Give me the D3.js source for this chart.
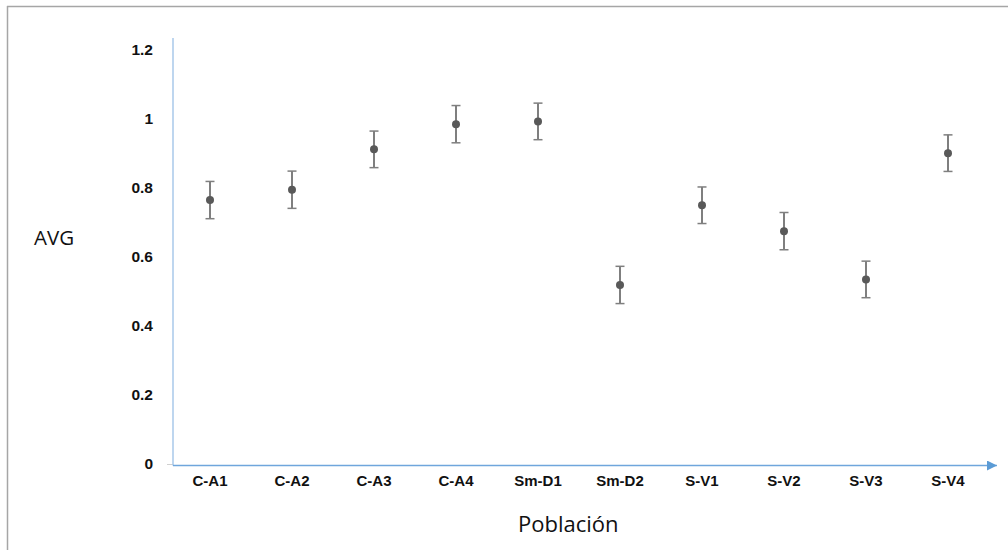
<!DOCTYPE html>
<html>
<head>
<meta charset="utf-8">
<script src="https://cdn.jsdelivr.net/npm/d3@7"></script>
<style>
  body { margin: 0; background: #fff; }
  svg { display: block; }
  .tick text { font-family: "Liberation Sans", Arial, sans-serif; font-weight: bold; fill: #111; }
</style>
</head>
<body>
<svg id="chart" width="1008" height="550"></svg>
<script>
const poblaciones = ['C-A1', 'C-A2', 'C-A3', 'C-A4', 'Sm-D1', 'Sm-D2', 'S-V1', 'S-V2', 'S-V3', 'S-V4'];
const avgValues = [0.765, 0.795, 0.912, 0.985, 0.993, 0.519, 0.750, 0.675, 0.535, 0.901];
const errValues = [0.054, 0.054, 0.053, 0.054, 0.053, 0.054, 0.053, 0.054, 0.053, 0.053];
const yTicks = [0, 0.2, 0.4, 0.6, 0.8, 1, 1.2];

const data = poblaciones.map((p, i) => ({ name: p, avg: avgValues[i], err: errValues[i] }));

const svg = d3.select('#chart');

// frame around the picture (only top and left edges show)
svg.append('line').attr('x1', 7).attr('x2', 1008).attr('y1', 6.5).attr('y2', 6.5)
  .attr('stroke', '#a6a6a6').attr('stroke-width', 1.5);
svg.append('line').attr('x1', 7.5).attr('x2', 7.5).attr('y1', 6).attr('y2', 550)
  .attr('stroke', '#a6a6a6').attr('stroke-width', 1.5);

// scales
const xScale = d3.scaleBand().domain(poblaciones).range([169, 989]);
const yScale = d3.scaleLinear().domain([0, 1.2]).range([464, 50]);
const axisX = 173;
const axisY = 465.5;

// y axis labels
const yAxisG = svg.append('g')
  .attr('transform', `translate(${axisX},0)`)
  .call(d3.axisLeft(yScale).tickValues(yTicks).tickSize(0).tickPadding(20).tickFormat(d3.format('~g')));
yAxisG.select('.domain').remove();
yAxisG.selectAll('text').style('font-size', '15.5px');

// x axis labels
const xAxisG = svg.append('g')
  .attr('transform', `translate(0,${axisY})`)
  .call(d3.axisBottom(xScale).tickSize(0).tickPadding(10));
xAxisG.select('.domain').remove();
xAxisG.selectAll('text').style('font-size', '15px');

// small gray tick at zero
svg.append('line').attr('x1', 167).attr('x2', axisX).attr('y1', axisY - 1).attr('y2', axisY - 1)
  .attr('stroke', '#d0d0d0').attr('stroke-width', 1);

// y axis line
svg.append('line')
  .attr('x1', axisX).attr('x2', axisX)
  .attr('y1', 38).attr('y2', axisY)
  .attr('stroke', '#a9c8ea').attr('stroke-width', 1.5);

// x axis line with arrow
svg.append('defs').append('marker')
  .attr('id', 'arrow')
  .attr('viewBox', '0 0 10 10')
  .attr('refX', 10).attr('refY', 5)
  .attr('markerWidth', 10).attr('markerHeight', 10)
  .attr('markerUnits', 'userSpaceOnUse')
  .attr('orient', 'auto')
  .append('path').attr('d', 'M0,0 L10,5 L0,10 Z').attr('fill', '#5b9bd5');

svg.append('line')
  .attr('x1', axisX).attr('x2', 997)
  .attr('y1', axisY).attr('y2', axisY)
  .attr('stroke', '#6fa6dc').attr('stroke-width', 1.5)
  .attr('marker-end', 'url(#arrow)');

// error bars
const cx = d => xScale(d.name) + xScale.bandwidth() / 2;
const bars = svg.append('g').selectAll('g.err').data(data).join('g').attr('class', 'err');
bars.append('line')
  .attr('x1', cx).attr('x2', cx)
  .attr('y1', d => yScale(d.avg + d.err)).attr('y2', d => yScale(d.avg - d.err))
  .attr('stroke', '#7f7f7f').attr('stroke-width', 2);
bars.append('line')
  .attr('x1', d => cx(d) - 4.5).attr('x2', d => cx(d) + 4.5)
  .attr('y1', d => yScale(d.avg + d.err)).attr('y2', d => yScale(d.avg + d.err))
  .attr('stroke', '#7f7f7f').attr('stroke-width', 1.5);
bars.append('line')
  .attr('x1', d => cx(d) - 4.5).attr('x2', d => cx(d) + 4.5)
  .attr('y1', d => yScale(d.avg - d.err)).attr('y2', d => yScale(d.avg - d.err))
  .attr('stroke', '#7f7f7f').attr('stroke-width', 1.5);

// points
svg.append('g').selectAll('circle').data(data).join('circle')
  .attr('cx', cx)
  .attr('cy', d => yScale(d.avg))
  .attr('r', 4)
  .attr('fill', '#595959');

// axis titles
svg.append('text')
  .attr('x', 34).attr('y', 245)
  .attr('font-family', '"Open Sans", "Noto Sans", sans-serif')
  .attr('font-size', 20.5)
  .attr('fill', '#111')
  .text('AVG');

svg.append('text')
  .attr('x', 518).attr('y', 532)
  .attr('font-family', '"Open Sans", "Noto Sans", sans-serif')
  .attr('font-size', 22)
  .attr('fill', '#111')
  .text('Población');
</script>
</body>
</html>
